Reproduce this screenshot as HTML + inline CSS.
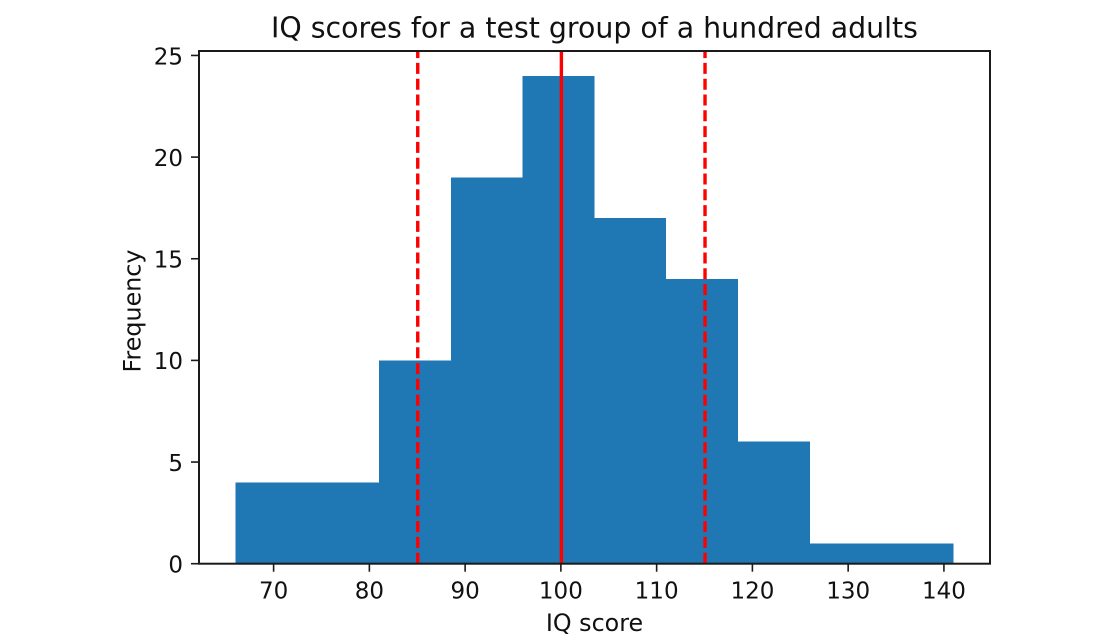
<!DOCTYPE html>
<html lang="en">
<head>
<meta charset="utf-8">
<title>IQ scores histogram</title>
<style>
html,body{margin:0;padding:0;background:#fff;width:1119px;height:642px;overflow:hidden}
svg{display:block}
text{font-family:"DejaVu Sans","Liberation Sans",sans-serif;fill:#111}
</style>
</head>
<body>
<svg id="chart" width="1119" height="642" viewBox="0 0 1119 642" xmlns="http://www.w3.org/2000/svg">
<text x="594.5" y="37.5" text-anchor="middle" font-size="28.4">IQ scores for a test group of a hundred adults</text>
<text x="594.5" y="631" text-anchor="middle" font-size="23.8">IQ score</text>
<text transform="translate(140.5 311) rotate(-90)" text-anchor="middle" font-size="23.8">Frequency</text>
<g id="bars"></g>
<g id="lines"></g>
<g id="xticks"></g>
<g id="yticks"></g>
<rect id="frame" fill="none" stroke="#1a1a1a" stroke-width="2"></rect>
</svg>
<script>
const binEdges = [66, 81, 88.5, 96, 103.5, 111, 118.5, 126, 141];
const frequencies = [4, 10, 19, 24, 17, 14, 6, 1];
const xTickLabels = [70, 80, 90, 100, 110, 120, 130, 140];
const yTickLabels = [0, 5, 10, 15, 20, 25];
const meanValue = [100];
const sdValues = [85, 115];

const NS = 'http://www.w3.org/2000/svg';
const plot = { left: 199, right: 990, top: 51, bottom: 563.7 };
const xAt = v => 273.6 + (v - 70) * 9.576;
const yAt = v => plot.bottom - v * 20.33;

function make(tag, parent) {
  const el = document.createElementNS(NS, tag);
  parent.appendChild(el);
  return el;
}
function setAll(el, attrs) {
  for (const k in attrs) el.setAttribute(k, attrs[k]);
}

const barsG = document.getElementById('bars');
frequencies.forEach((f, i) => {
  const r = make('rect', barsG);
  
  
  setAll(r, {
    x: xAt(binEdges[i]),
    y: yAt(f),
    width: xAt(binEdges[i + 1]) - xAt(binEdges[i]),
    height: plot.bottom - yAt(f),
    fill: '#1f77b4',
    'shape-rendering': 'crispEdges'
  });
});

const linesG = document.getElementById('lines');
meanValue.forEach(v => {
  const l = make('line', linesG);
  
  
  setAll(l, { x1: xAt(v) + 0.5, x2: xAt(v) + 0.5, y1: plot.bottom, y2: plot.top, stroke: '#ff0000', 'stroke-width': 3.4 });
});
sdValues.forEach(v => {
  const l = make('line', linesG);
  
  
  setAll(l, { x1: xAt(v) + 0.5, x2: xAt(v) + 0.5, y1: plot.bottom, y2: plot.top, stroke: '#ff0000', 'stroke-width': 3.4, 'stroke-dasharray': '11 4.8' });
});

const xG = document.getElementById('xticks');
xTickLabels.forEach(v => {
  const t = make('line', xG);
  
  
  setAll(t, { x1: xAt(v), x2: xAt(v), y1: plot.bottom, y2: plot.bottom + 8, stroke: '#1a1a1a', 'stroke-width': 1.6 });
  const s = make('text', xG);
  
  
  setAll(s, { x: xAt(v), y: 598.3, 'text-anchor': 'middle', 'font-size': 23 });
  s.textContent = v;
});

const yG = document.getElementById('yticks');
yTickLabels.forEach(v => {
  const t = make('line', yG);
  
  
  setAll(t, { x1: plot.left - 8, x2: plot.left, y1: yAt(v), y2: yAt(v), stroke: '#1a1a1a', 'stroke-width': 1.6 });
  const s = make('text', yG);
  
  
  setAll(s, { x: 183, y: yAt(v) + 8.8, 'text-anchor': 'end', 'font-size': 23 });
  s.textContent = v;
});

setAll(document.getElementById('frame'), {
  x: plot.left, y: plot.top,
  width: plot.right - plot.left,
  height: plot.bottom - plot.top
});
</script>
</body>
</html>
